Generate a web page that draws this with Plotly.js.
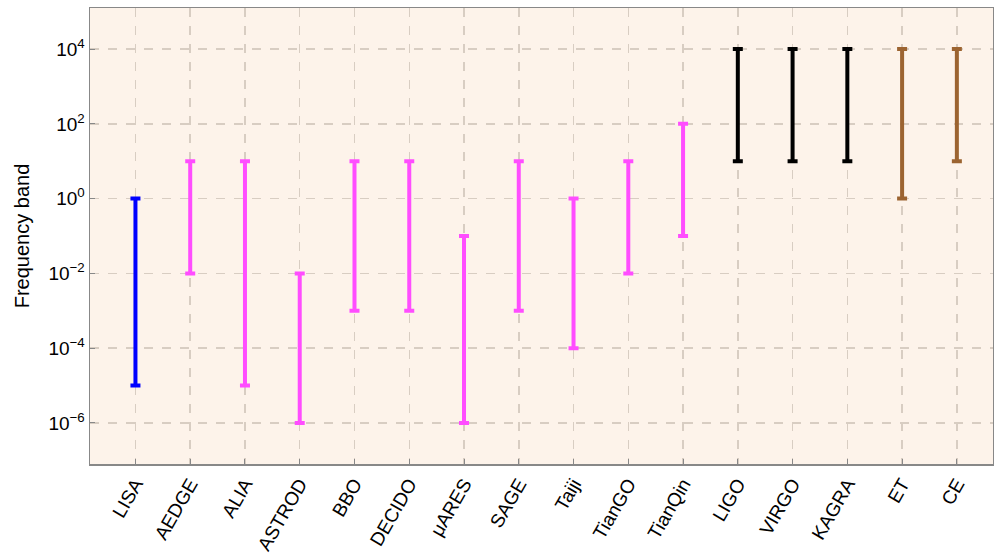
<!DOCTYPE html>
<html>
<head>
<meta charset="utf-8">
<script src="https://cdn.plot.ly/plotly-3.0.1.min.js"></script>
<style>html,body{margin:0;padding:0;background:#fff;}#chart{width:994px;height:555px;}</style>
</head>
<body>
<div id="chart"></div>
<script>
const detectors = ["LISA","AEDGE","ALIA","ASTROD","BBO","DECIDO","μARES","SAGE","Taiji","TianGO","TianQin","LIGO","VIRGO","KAGRA","ET","CE"];
const bandLow  = [1e-5, 1e-2, 1e-5, 1e-6, 1e-3, 1e-3, 1e-6, 1e-3, 1e-4, 1e-2, 1e-1, 10, 10, 10, 1, 10];
const bandHigh = [1, 10, 10, 1e-2, 10, 10, 1e-1, 10, 1, 10, 100, 1e4, 1e4, 1e4, 1e4, 1e4];
const groupOf  = ["space-lisa","space","space","space","space","space","space","space","space","space","space","ground","ground","ground","next","next"];
const groupColor = {"space-lisa":"#0000ff","space":"#ff4dff","ground":"#000000","next":"#9c6431"};
const yTickVals = [1e-6,1e-4,1e-2,1,1e2,1e4];
const yTickText = ["10<sup>−6</sup>","10<sup>−4</sup>","10<sup>−2</sup>","10<sup>0</sup>","10<sup>2</sup>","10<sup>4</sup>"];

const traces = detectors.map((d,i)=>({
  type:"scatter", mode:"markers",
  x:[d], y:[bandLow[i]],
  marker:{size:1, opacity:0},
  error_y:{type:"data", symmetric:false, array:[bandHigh[i]-bandLow[i]], arrayminus:[0],
           color:groupColor[groupOf[i]], thickness:4, width:5},
  showlegend:false, hoverinfo:"skip"
}));

const gridCol = "#d8cdc2";
const layout = {
  width:994, height:555,
  margin:{l:90, r:1, t:8, b:91},
  paper_bgcolor:"#ffffff",
  plot_bgcolor:"#fdf3ea",
  font:{family:"Liberation Sans, Arial, sans-serif", color:"#000"},
  xaxis:{
    type:"category", categoryorder:"array", categoryarray:detectors,
    range:[-0.83, 15.66],
    tickangle:-60, tickfont:{size:19},
    showgrid:true, gridcolor:gridCol, griddash:"dash", gridwidth:1.5,
    ticks:"inside", ticklen:5, tickcolor:"#888", tickwidth:1,
    showline:true, linecolor:"#888", linewidth:1.5, mirror:true,
    zeroline:false
  },
  yaxis:{
    type:"log", range:[-7.1, 5.1],
    tickvals:yTickVals, ticktext:yTickText, tickfont:{size:19},
    showgrid:true, gridcolor:gridCol, griddash:"dash", gridwidth:1.5,
    ticks:"inside", ticklen:5, tickcolor:"#888", tickwidth:1,
    showline:true, linecolor:"#888", linewidth:1.5, mirror:true,
    zeroline:false,
    title:{text:"Frequency band", font:{size:20}, standoff:13}
  }
};
Plotly.newPlot("chart", traces, layout, {displayModeBar:false, staticPlot:true});
</script>
</body>
</html>
